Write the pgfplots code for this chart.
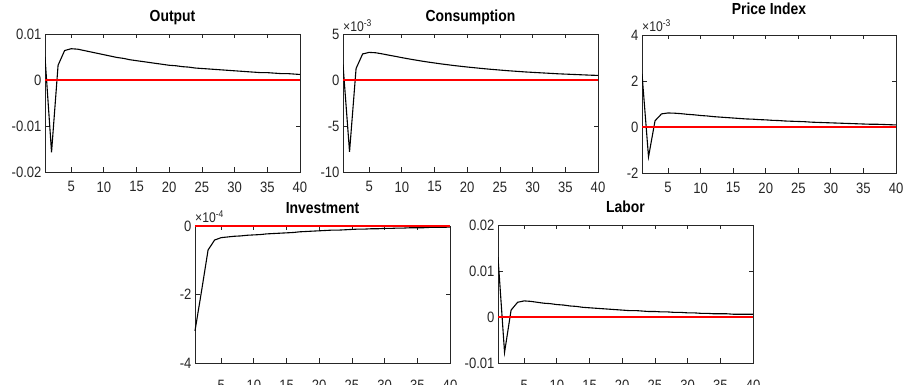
\documentclass[border=0pt]{standalone}
\usepackage{fontspec}
\setmainfont{Liberation Sans}[FakeStretch=0.87]
\usepackage{pgfplots}
\usepackage{pgfplotstable}
\pgfplotsset{compat=1.18}
\definecolor{axgray}{RGB}{38,38,38}
\definecolor{zred}{RGB}{255,0,0}

\pgfplotstableread{
t y
1 0.0050
2 -0.0157
3 0.0032
4 0.0064
5 0.0068
6 0.0067
7 0.0064
8 0.0061
9 0.0058
10 0.0055
11 0.0052
12 0.0049
13 0.0047
14 0.0044
15 0.0042
16 0.0040
17 0.0038
18 0.0036
19 0.0034
20 0.0032
21 0.0031
22 0.0029
23 0.0028
24 0.0026
25 0.0025
26 0.0024
27 0.0023
28 0.0022
29 0.0021
30 0.0020
31 0.0019
32 0.0018
33 0.0017
34 0.0016
35 0.0016
36 0.0015
37 0.0014
38 0.0014
39 0.0013
40 0.0012
}\outputdata

\pgfplotstableread{
t y
1 0.00168
2 -0.0078
3 0.00125
4 0.00283
5 0.00300
6 0.00296
7 0.00284
8 0.00270
9 0.00257
10 0.00243
11 0.00230
12 0.00218
13 0.00206
14 0.00195
15 0.00185
16 0.00175
17 0.00166
18 0.00157
19 0.00149
20 0.00141
21 0.00134
22 0.00127
23 0.00120
24 0.00114
25 0.00108
26 0.00102
27 0.00097
28 0.00092
29 0.00087
30 0.00083
31 0.00079
32 0.00075
33 0.00071
34 0.00067
35 0.00064
36 0.00061
37 0.00058
38 0.00055
39 0.00052
40 0.00050
}\consdata

\pgfplotstableread{
t y
1 0.00231
2 -0.00130
3 0.00027
4 0.00057
5 0.00061
6 0.00060
7 0.00058
8 0.00055
9 0.00053
10 0.00050
11 0.00048
12 0.00045
13 0.00043
14 0.00041
15 0.00039
16 0.00037
17 0.00035
18 0.00034
19 0.00032
20 0.00031
21 0.00029
22 0.00028
23 0.00026
24 0.00025
25 0.00024
26 0.00023
27 0.00021
28 0.00020
29 0.00019
30 0.00018
31 0.00017
32 0.00016
33 0.00015
34 0.00014
35 0.00013
36 0.00012
37 0.00012
38 0.00011
39 0.00010
40 0.00009
}\pricedata

\pgfplotstableread{
t y
1 -0.000306
2 -0.000190
3 -0.000070
4 -0.000041
5 -0.000034
6 -0.000032
7 -0.000030
8 -0.000029
9 -0.000027
10 -0.000026
11 -0.000025
12 -0.000023
13 -0.000022
14 -0.000021
15 -0.000020
16 -0.000019
17 -0.000017
18 -0.000016
19 -0.000015
20 -0.000014
21 -0.000013
22 -0.000012
23 -0.000012
24 -0.000011
25 -0.000010
26 -0.000009
27 -0.000009
28 -0.000008
29 -0.000008
30 -0.000007
31 -0.000007
32 -0.000006
33 -0.000006
34 -0.000005
35 -0.000005
36 -0.000005
37 -0.000004
38 -0.000004
39 -0.000004
40 -0.000003
}\invdata

\pgfplotstableread{
t y
1 0.0130
2 -0.0077
3 0.0015
4 0.0032
5 0.0035
6 0.0034
7 0.0032
8 0.0030
9 0.0029
10 0.0027
11 0.0026
12 0.0024
13 0.0023
14 0.0021
15 0.0020
16 0.0019
17 0.0018
18 0.0017
19 0.0016
20 0.0015
21 0.0014
22 0.0014
23 0.0013
24 0.0012
25 0.0012
26 0.0011
27 0.0011
28 0.0010
29 0.0010
30 0.0009
31 0.0009
32 0.0008
33 0.0008
34 0.0007
35 0.0007
36 0.0007
37 0.0006
38 0.0006
39 0.0006
40 0.0006
}\labordata

\pgfplotstableread{
t y
1 0
40 0
}\zerodata

\pgfplotsset{
  irf/.style={
    scale only axis,
    anchor=south west,
    clip mode=individual,
    xmin=1, xmax=40,
    xtick={5,10,15,20,25,30,35,40},
    xticklabels={5,10,15,20,25,30,35,40},
    /pgf/number format/assume math mode=true,
    axis line style={axgray, line width=0.8pt},
    every tick/.style={axgray, line width=0.8pt},
    major tick length=4.5pt,
    tick align=inside,
    tick label style={font=\fontsize{15}{17}\selectfont, text=axgray},
    xticklabel style={yshift=-6pt},
    title style={at={(0.5,1)}, anchor=base, yshift=6.5pt, font=\bfseries\fontsize{16}{18}\selectfont},
    scaled y ticks=false,
  },
}
\tikzset{expo/.style={anchor=base west, inner sep=0pt, text=axgray, font=\fontsize{14}{16}\selectfont}}

\begin{document}
\begin{tikzpicture}
\path[use as bounding box] (0pt,0pt) rectangle (904pt,385pt);

% Output
\begin{axis}[irf, at={(45pt,213pt)}, width=255pt, height=138pt,
  title={Output},
  ymin=-0.02, ymax=0.01,
  ytick={-0.02,-0.01,0,0.01},
  yticklabels={-0.02,-0.01,0,0.01}]
\addplot[black, line width=1.1pt, no markers] table[x=t,y=y] {\outputdata};
\addplot[zred, line width=1.6pt, no markers] table[x=t,y=y] {\zerodata};
\end{axis}

% Consumption
\begin{axis}[irf, at={(343pt,213pt)}, width=255pt, height=138pt,
  title={Consumption},
  ymin=-0.01, ymax=0.005,
  ytick={-0.01,-0.005,0,0.005},
  yticklabels={-10,-5,0,5}]
\addplot[black, line width=1.1pt, no markers] table[x=t,y=y] {\consdata};
\addplot[zred, line width=1.6pt, no markers] table[x=t,y=y] {\zerodata};
\node[expo, yshift=2.5pt] at (rel axis cs:0,1) {×10\textsuperscript{-3}};
\end{axis}

% Price Index
\begin{axis}[irf, at={(642pt,212pt)}, width=254pt, height=138pt,
  title={Price Index}, title style={yshift=8pt},
  ymin=-0.002, ymax=0.004,
  ytick={-0.002,0,0.002,0.004},
  yticklabels={-2,0,2,4}]
\addplot[black, line width=1.1pt, no markers] table[x=t,y=y] {\pricedata};
\addplot[zred, line width=1.6pt, no markers] table[x=t,y=y] {\zerodata};
\node[expo, yshift=3.5pt] at (rel axis cs:0,1) {×10\textsuperscript{-3}};
\end{axis}

% Investment
\begin{axis}[irf, at={(195pt,22pt)}, width=255pt, height=137pt,
  title={Investment}, clip=false,
  xticklabel style={yshift=-7.5pt},
  ymin=-0.0004, ymax=0,
  ytick={-0.0004,-0.0002,0},
  yticklabels={-4,-2,0}]
\addplot[black, line width=1.1pt, no markers] table[x=t,y=y] {\invdata};
\addplot[zred, line width=1.6pt, no markers] table[x=t,y=y] {\zerodata};
\node[expo, yshift=3.5pt] at (rel axis cs:0,1) {×10\textsuperscript{-4}};
\end{axis}

% Labor
\begin{axis}[irf, at={(498pt,22pt)}, width=255pt, height=138pt,
  title={Labor},
  xticklabel style={yshift=-7.5pt},
  ymin=-0.01, ymax=0.02,
  ytick={-0.01,0,0.01,0.02},
  yticklabels={-0.01,0,0.01,0.02}]
\addplot[black, line width=1.1pt, no markers] table[x=t,y=y] {\labordata};
\addplot[zred, line width=1.6pt, no markers] table[x=t,y=y] {\zerodata};
\end{axis}
\end{tikzpicture}
\end{document}
